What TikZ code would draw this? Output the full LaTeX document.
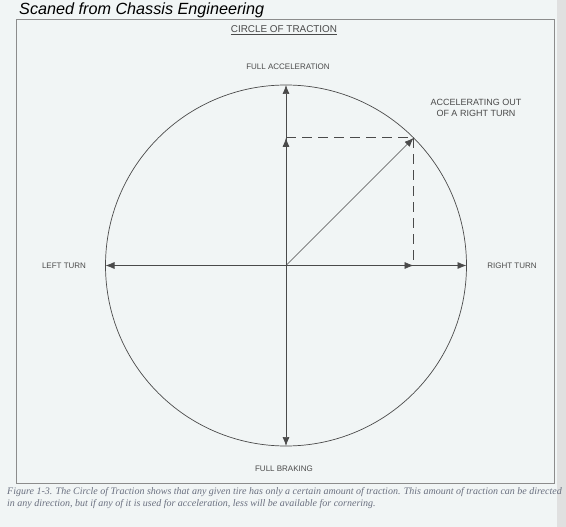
\documentclass[tikz,border=0pt]{standalone}
\usepackage{fontspec}
\setmainfont{Liberation Sans}
\newfontfamily\capfont{Liberation Serif}
\usetikzlibrary{arrows.meta, calc}

\definecolor{paper}{HTML}{F1F5F5}
\definecolor{ink}{HTML}{4A4A4A}
\definecolor{capink}{HTML}{6A7080}

\tikzset{
  axis/.style={draw=ink, line width=0.7pt, {Latex[length=9pt,width=7pt]}-{Latex[length=9pt,width=7pt]}},
  comp/.style={draw=ink, line width=0.7pt, -{Latex[length=9pt,width=7pt]}},
  guide/.style={draw=ink, line width=0.8pt, dash pattern=on 10pt off 6pt},
  lbl/.style={text=ink, font=\fontsize{8}{10}\selectfont, align=center, inner sep=0pt}
}

\begin{document}
\begin{tikzpicture}[x=1pt, y=-1pt]
\useasboundingbox (0,0) rectangle (566,527);
\fill[paper] (0,0) rectangle (566,527);
\fill[black!12] (557,0) rectangle (566,527);
% frame
\draw[black!45, line width=0.6pt] (16,19) rectangle (554,483);
% circle
\coordinate (o) at (286,265.5);
\draw[ink, line width=0.7pt] (o) circle[radius=180.5];
\coordinate (top) at ($(o)+(0,-180.5)$);
\coordinate (bot) at ($(o)+(0,180.5)$);
\coordinate (lft) at ($(o)+(-180.5,0)$);
\coordinate (rgt) at ($(o)+(180.5,0)$);
\coordinate (p) at ($(o)+(127.6,-127.6)$);
\coordinate (px) at (p |- o);
\coordinate (py) at (o |- p);
% arrows
\draw[axis] (top) -- (bot);
\draw[axis] (lft) -- (rgt);
\draw[comp] (o) -- (p);
\draw[comp] (o) -- (py);
\draw[comp] (o) -- (px);
\draw[guide] (py) -- (p) -- (px);
%Text
\node[anchor=base west, inner sep=0pt, font=\fontsize{16.2}{19}\selectfont\itshape] (src) at (19,15) {Scaned from Chassis Engineering};
\node[lbl, font=\fontsize{9.9}{12}\selectfont] (title) at (284,30.5) {\underline{CIRCLE OF TRACTION}};
\node[lbl] (acc) at (288,67) {FULL ACCELERATION};
\node[lbl, font=\fontsize{9}{10.5}\selectfont] (out) at (476,108) {ACCELERATING OUT\\OF A RIGHT TURN};
\node[lbl] (rt) at (512,265.5) {RIGHT TURN};
\node[lbl] (lt) at (64,265.5) {LEFT TURN};
\node[lbl] (brk) at (284,469) {FULL BRAKING};
\node[anchor=base west, inner sep=0pt, text=capink, align=left,
      font=\capfont\itshape\fontsize{10}{12}\selectfont] (cap) at (7,506)
  {Figure 1-3. The Circle of Traction shows that any given tire has only a certain amount of traction. This amount of traction can be directed\\
   in any direction, but if any of it is used for acceleration, less will be available for cornering.};
\end{tikzpicture}
\end{document}
